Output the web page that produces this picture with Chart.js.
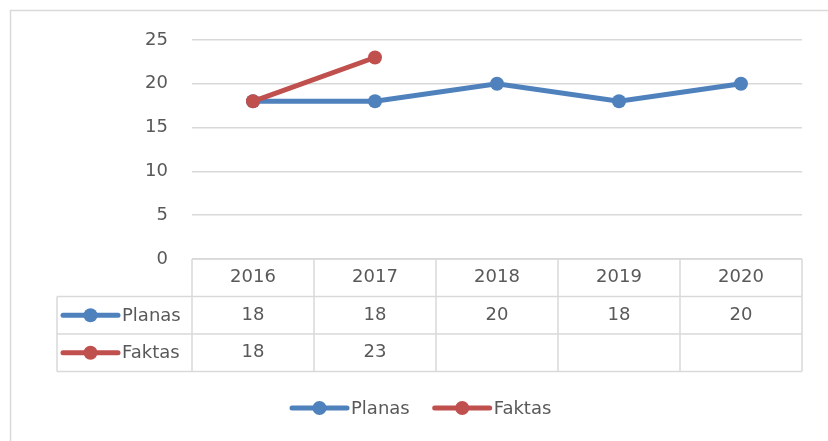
<!DOCTYPE html>
<html>
<head>
<meta charset="utf-8">
<script src="https://cdn.jsdelivr.net/npm/chart.js@4"></script>
<style>
  html, body { margin: 0; padding: 0; background: #fff; }
  #wrap { width: 828px; height: 441px; position: relative; }
</style>
</head>
<body>
<div id="wrap"><canvas id="myChart" width="828" height="441"></canvas></div>
<script>
'use strict';

// chart data
var years = ['2016', '2017', '2018', '2019', '2020'];
var planas = [18, 18, 20, 18, 20];
var faktas = [18, 23, null, null, null];
var seriesNames = ['Planas', 'Faktas'];
var seriesColors = ['#4f81bd', '#c0504d'];
var yTicks = [0, 5, 10, 15, 20, 25];

var FONT = '"DejaVu Sans", sans-serif';
var TEXT = '#595959';
var LINE = '#d9d9d9';

// draws the data table under the plot and the legend at the bottom
var tablePlugin = {
  id: 'dataTable',
  beforeDraw: function(chart) {
    var ctx = chart.ctx;
    ctx.save();
    ctx.strokeStyle = LINE;
    ctx.lineWidth = 1.5;
    ctx.beginPath();
    ctx.moveTo(10.5, 441);
    ctx.lineTo(10.5, 10.5);
    ctx.lineTo(828, 10.5);
    ctx.stroke();
    ctx.restore();
  },
  afterDraw: function(chart) {
    var ctx = chart.ctx;
    var x = chart.scales.x;
    var area = chart.chartArea;
    var top = area.bottom;
    var rowH = 37.5;
    var keyLeft = 57;
    var rows = [planas, faktas];
    var colW = (x.right - x.left) / years.length;

    ctx.save();
    ctx.strokeStyle = LINE;
    ctx.lineWidth = 1.5;
    ctx.beginPath();
    // horizontal lines
    ctx.moveTo(x.left, top); ctx.lineTo(x.right, top);
    for (var r = 1; r <= 3; r++) {
      var yy = top + r * rowH;
      ctx.moveTo(keyLeft, yy); ctx.lineTo(x.right, yy);
    }
    // vertical lines
    ctx.moveTo(keyLeft, top + rowH); ctx.lineTo(keyLeft, top + 3 * rowH);
    for (var c = 0; c <= years.length; c++) {
      var xx = x.left + c * colW;
      ctx.moveTo(xx, top); ctx.lineTo(xx, top + 3 * rowH);
    }
    ctx.stroke();

    ctx.font = '18px ' + FONT;
    ctx.fillStyle = TEXT;
    ctx.textBaseline = 'middle';
    for (var s = 0; s < rows.length; s++) {
      var cy = top + (s + 1.5) * rowH;
      ctx.textAlign = 'center';
      for (var i = 0; i < years.length; i++) {
        if (rows[s][i] === null) continue;
        ctx.fillText(String(rows[s][i]), x.getPixelForValue(i), cy);
      }
      drawKey(ctx, 63, 118, cy, seriesColors[s]);
      ctx.fillStyle = TEXT;
      ctx.textAlign = 'left';
      ctx.fillText(seriesNames[s], 122, cy + 1);
    }

    // legend
    var ly = 408;
    var lx = 292;
    ctx.textAlign = 'left';
    for (var k = 0; k < seriesNames.length; k++) {
      drawKey(ctx, lx, lx + 55, ly, seriesColors[k]);
      ctx.fillStyle = TEXT;
      ctx.fillText(seriesNames[k], lx + 59, ly + 1);
      lx += 59 + ctx.measureText(seriesNames[k]).width + 25;
    }
    ctx.restore();
  }
};

function drawKey(ctx, x1, x2, y, color) {
  ctx.save();
  ctx.strokeStyle = color;
  ctx.fillStyle = color;
  ctx.lineWidth = 5;
  ctx.lineCap = 'round';
  ctx.beginPath();
  ctx.moveTo(x1, y); ctx.lineTo(x2, y);
  ctx.stroke();
  ctx.beginPath();
  ctx.arc((x1 + x2) / 2, y, 7, 0, Math.PI * 2);
  ctx.fill();
  ctx.restore();
}

var ctx = document.getElementById('myChart');
var myChart = new Chart(ctx, {
  type: 'line',
  data: {
    labels: years,
    datasets: [{
      label: seriesNames[0],
      data: planas,
      borderColor: seriesColors[0],
      backgroundColor: seriesColors[0],
      borderWidth: 5,
      pointRadius: 7,
      pointBorderWidth: 0,
      tension: 0,
      order: 2
    }, {
      label: seriesNames[1],
      data: faktas,
      borderColor: seriesColors[1],
      backgroundColor: seriesColors[1],
      borderWidth: 5,
      pointRadius: 7,
      pointBorderWidth: 0,
      tension: 0,
      spanGaps: false,
      order: 1
    }]
  },
  options: {
    responsive: false,
    animation: false,
    layout: { padding: { top: 40, left: 0, right: 26, bottom: 145 } },
    plugins: {
      legend: { display: false },
      tooltip: { enabled: false }
    },
    scales: {
      x: {
        offset: true,
        grid: { display: false },
        border: { display: false },
        ticks: { color: TEXT, font: { family: FONT, size: 18 }, padding: 0, maxRotation: 0 },
        afterFit: function(scale) { scale.height = 37; }
      },
      y: {
        min: 0,
        max: 25,
        afterBuildTicks: function(scale) {
          scale.ticks = yTicks.map(function(v) { return { value: v }; });
        },
        grid: { color: LINE, lineWidth: 1.5, drawTicks: false },
        border: { display: false },
        ticks: { color: TEXT, font: { family: FONT, size: 18 }, padding: 24 },
        afterFit: function(scale) { scale.width = 192; }
      }
    }
  },
  plugins: [tablePlugin]
});
</script>
</body>
</html>
